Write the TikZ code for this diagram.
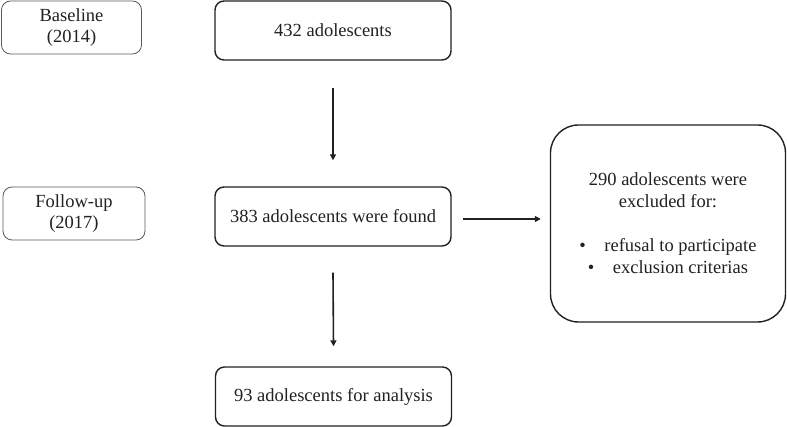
\documentclass[tikz,border=0pt]{standalone}
\usepackage{fontspec}
\setmainfont{Liberation Serif}
\usepackage{xcolor}
\usetikzlibrary{arrows.meta}
\definecolor{inkdark}{rgb}{0.14,0.12,0.13}
\definecolor{linegray}{rgb}{0.35,0.35,0.35}

\begin{document}
\begin{tikzpicture}[x=1pt, y=-1pt,
    box/.style={rectangle, rounded corners=9pt, draw=inkdark, line width=1.4pt, minimum width=236pt, minimum height=59pt, align=center, text=inkdark, font=\fontsize{18.5}{22}\selectfont},
    tag/.style={rectangle, rounded corners=9pt, draw=linegray, line width=0.8pt, minimum width=140pt, minimum height=53pt, align=center, text=inkdark, font=\fontsize{18.5}{21.5}\selectfont},
    arrow/.style={-{Triangle[length=6pt, width=6pt]}, line width=1.6pt, draw=inkdark}
]
\useasboundingbox (0,0) rectangle (787,427);

\node[tag] (base) at (71.5,27.5) {Baseline\\(2014)};
\node[tag, minimum width=142pt] (follow) at (74,213.5) {Follow-up\\(2017)};

\node[box] (n432) at (333,30.5) {432 adolescents};
\node[box] (n383) at (333,216.5) {383 adolescents were found};
\node[box] (n93) at (333.5,396.5) {93 adolescents for analysis};
\node[box, rounded corners=28pt, minimum width=235pt, minimum height=197pt] (n290) at (668,223.5)
    {290 adolescents were\\excluded for:\\[22pt]\textbullet\hspace{1em}refusal to participate\\\textbullet\hspace{1em}exclusion criterias};

\draw[arrow] ([yshift=-27pt]n432.south) -- ([yshift=26pt]n383.north);
\draw[arrow] ([yshift=-26pt]n383.south) -- ([yshift=20pt]n93.north);
\draw[arrow] ([xshift=11pt,yshift=-2.5pt]n383.east) -- ([xshift=-9pt,yshift=4.5pt]n290.west);

\end{tikzpicture}
\end{document}
